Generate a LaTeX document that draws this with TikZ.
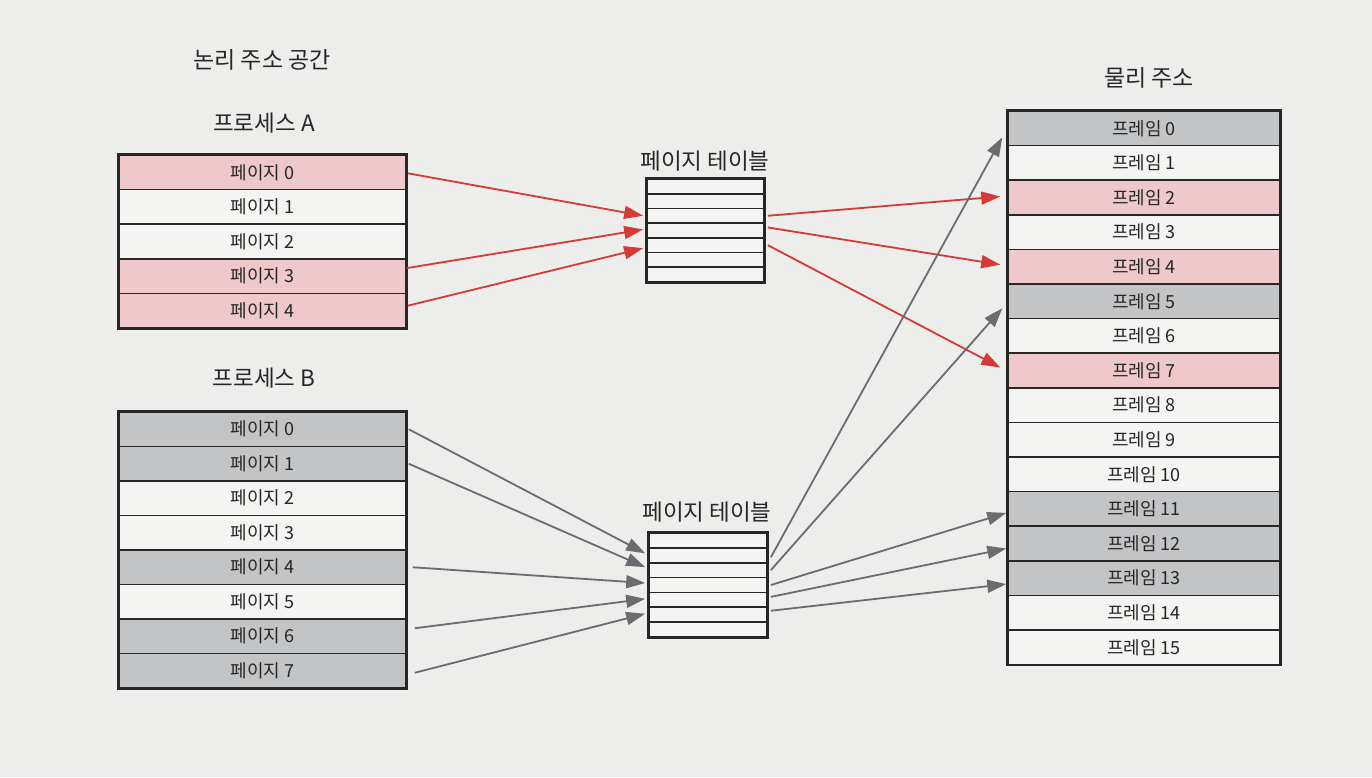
\documentclass[tikz,border=0pt]{standalone}
\usepackage{fontspec}
\setmainfont{Noto Sans CJK KR}
\usetikzlibrary{arrows.meta,calc}
\definecolor{paper}{HTML}{EDEDEB}
\definecolor{pinkc}{HTML}{EFC8CC}
\definecolor{grayc}{HTML}{C3C4C6}
\definecolor{whitec}{HTML}{F4F4F2}
\definecolor{redc}{HTML}{D63A35}
\definecolor{arrgray}{HTML}{6A6C70}
\definecolor{ink}{HTML}{262626}
\begin{document}
\begin{tikzpicture}[x=1pt,y=-1pt,
 rowbox/.style={draw=ink, line width=1.5pt, minimum width=287pt, minimum height=34.5pt, inner sep=0pt, font=\fontsize{18}{18}\selectfont, text=ink},
 framebox/.style={rowbox, minimum width=272pt, minimum height=34.6pt},
 ptrow/.style={draw=ink, line width=1.7pt, minimum height=14.8pt, inner sep=0pt, fill=whitec},
 titletext/.style={font=\fontsize{22.5}{22.5}\selectfont, text=ink},
 bigtitle/.style={font=\fontsize{23}{23}\selectfont, text=ink},
 redarr/.style={draw=redc, line width=1.8pt, -{Triangle[length=19pt,width=13pt]}},
 grayarr/.style={draw=arrgray, line width=1.8pt, -{Triangle[length=19pt,width=13pt]}}
]
\fill[paper] (0,0) rectangle (1372,777);
\useasboundingbox (0,0) rectangle (1372,777);

% titles
\node[bigtitle] (tlog) at (262,60) {논리 주소 공간};
\node[titletext] (tpa) at (264,123) {프로세스 A};
\node[titletext] (tpb) at (264,378) {프로세스 B};
\node[titletext] (tpta) at (705,161) {페이지 테이블};
\node[titletext] (tptb) at (707,512) {페이지 테이블};
\node[bigtitle] (tphys) at (1149,78) {물리 주소};

% process A
\foreach \i/\c in {0/pinkc,1/whitec,2/whitec,3/pinkc,4/pinkc}
  \node[rowbox, fill=\c] (a\i) at (262.5,{172.3+34.6*\i}) {페이지 \i};
\draw[ink, line width=2pt] (a0.north west) rectangle (a4.south east);

% process B
\foreach \i/\c in {0/grayc,1/grayc,2/whitec,3/whitec,4/grayc,5/whitec,6/grayc,7/grayc}
  \node[rowbox, fill=\c] (b\i) at (262.5,{429.25+34.5*\i}) {페이지 \i};
\draw[ink, line width=2pt] (b0.north west) rectangle (b7.south east);

% page table A
\foreach \i in {1,...,7}
  \node[ptrow, minimum width=117pt] (pa\i) at (705.5,{179+14.7*(\i-0.5)}) {};
\draw[ink, line width=2pt] (pa1.north west) rectangle (pa7.south east);

% page table B
\foreach \i in {1,...,7}
  \node[ptrow, minimum width=118pt] (pb\i) at (708,{533+14.86*(\i-0.5)}) {};
\draw[ink, line width=2pt] (pb1.north west) rectangle (pb7.south east);

% physical frames
\foreach \i/\c in {0/grayc,1/whitec,2/pinkc,3/whitec,4/pinkc,5/grayc,6/whitec,7/pinkc,8/whitec,9/whitec,10/whitec,11/grayc,12/grayc,13/grayc,14/whitec,15/whitec}
  \node[framebox, fill=\c] (f\i) at (1144,{111+34.6*(\i+0.5)}) {프레임 \i};
\draw[ink, line width=1.8pt] (f0.north west) rectangle (f15.south east);

% red arrows: process A -> page table A
\draw[redarr] ($(a0.east)+(1,1)$) -- ($(pa3.west)+(-3,0)$);
\draw[redarr] ($(a3.east)+(0,-8)$) -- ($(pa4.west)+(-3,-1)$);
\draw[redarr] ($(a4.east)+(1,-5)$) -- ($(pa5.west)+(-3,3)$);

% red arrows: page table A -> frames
\draw[redarr] ($(pa3.east)+(3,0)$) -- ($(f2.west)+(-7,-1)$);
\draw[redarr] ($(pa4.east)+(3,-3)$) -- ($(f4.west)+(-7,-2)$);
\draw[redarr] ($(pa5.east)+(3,0)$) -- ($(f7.west)+(-7,-3)$);

% gray arrows: process B -> page table B
\draw[grayarr] ($(b0.east)+(2,0)$) -- ($(pb2.west)+(-3,-2)$);
\draw[grayarr] ($(b1.east)+(2,0)$) -- ($(pb3.west)+(-3,-3)$);
\draw[grayarr] ($(b4.east)+(6,0)$) -- ($(pb4.west)+(-3,-2)$);
\draw[grayarr] ($(b6.east)+(8,-8)$) -- ($(pb5.west)+(-3,-1)$);
\draw[grayarr] ($(b7.east)+(8,2)$) -- ($(pb6.west)+(-3,-1)$);

% gray arrows: page table B -> frames
\draw[grayarr] ($(pb2.east)+(3,2)$) -- ($(f0.west)+(-5,9)$);
\draw[grayarr] ($(pb3.east)+(3,0)$) -- ($(f5.west)+(-5,7)$);
\draw[grayarr] ($(pb4.east)+(3,0)$) -- ($(f11.west)+(-1,4)$);
\draw[grayarr] ($(pb5.east)+(3,-3)$) -- ($(f12.west)+(-1,5)$);
\draw[grayarr] ($(pb6.east)+(3,-4)$) -- ($(f13.west)+(-1,6)$);
\end{tikzpicture}
\end{document}
